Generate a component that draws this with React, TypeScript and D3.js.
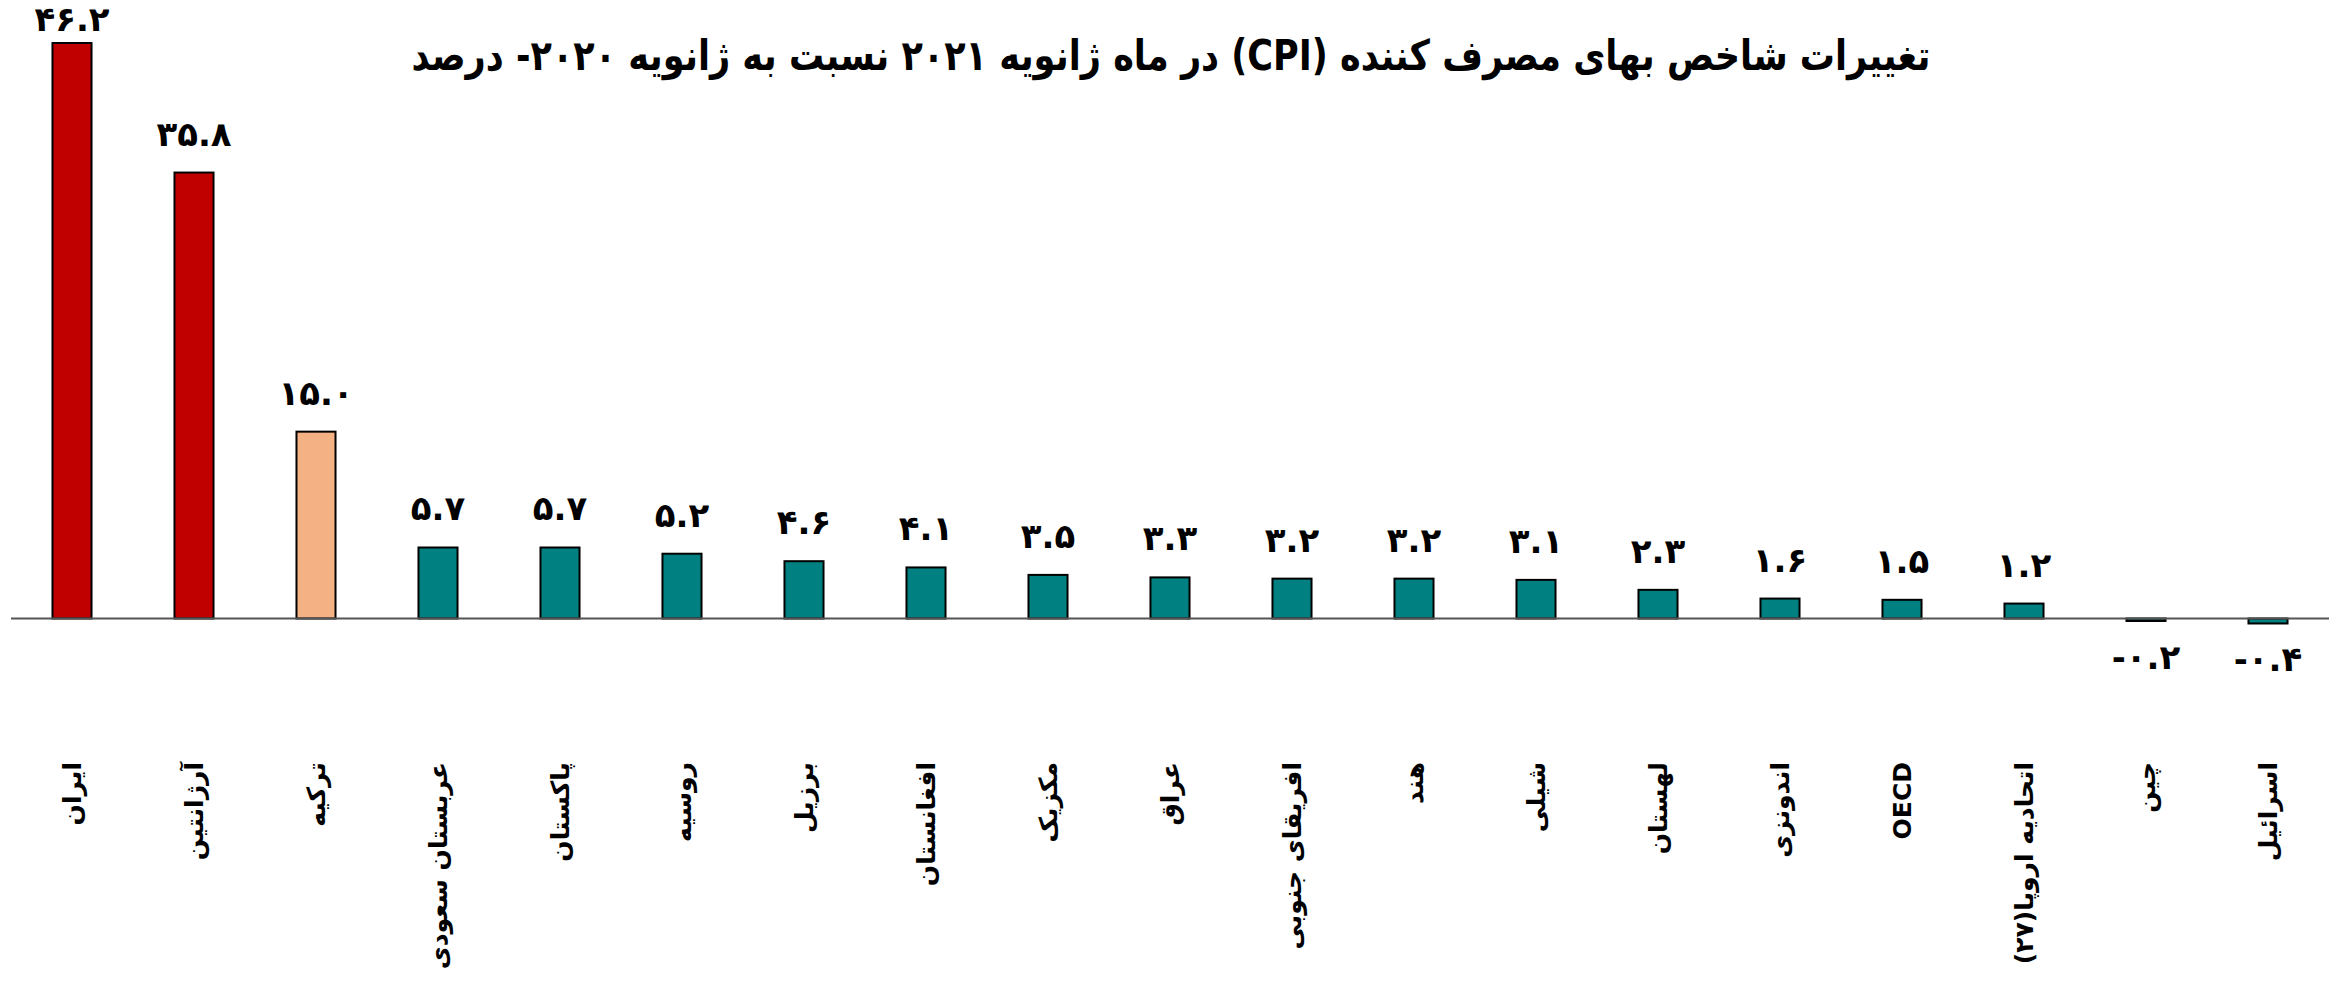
import React from "react";
import * as d3 from "d3";

const categories = [
  "ایران", "آرژانتین", "ترکیه", "عربستان سعودی", "پاکستان", "روسیه", "برزیل",
  "افغانستان", "مکزیک", "عراق", "افریقای جنوبی", "هند", "شیلی", "لهستان",
  "اندونزی", "OECD", "اتحادیه اروپا(۲۷)", "چین", "اسرائیل",
];
const values = [46.2, 35.8, 15.0, 5.7, 5.7, 5.2, 4.6, 4.1, 3.5, 3.3, 3.2, 3.2, 3.1, 2.3, 1.6, 1.5, 1.2, -0.2, -0.4];
const valueLabels = ["۴۶.۲", "۳۵.۸", "۱۵.۰", "۵.۷", "۵.۷", "۵.۲", "۴.۶", "۴.۱", "۳.۵", "۳.۳", "۳.۲", "۳.۲", "۳.۱", "۲.۳", "۱.۶", "۱.۵", "۱.۲", "-۰.۲", "-۰.۴"];
const groups = ["high", "high", "mid", "low", "low", "low", "low", "low", "low", "low", "low", "low", "low", "low", "low", "low", "low", "low", "low"];
const title = "تغییرات شاخص بهای مصرف کننده (CPI)  در ماه ژانویه ۲۰۲۱ نسبت به ژانویه ۲۰۲۰- درصد";

const W = 2341;
const H = 990;
const colors: Record<string, string> = { high: "#C00000", mid: "#F4B183", low: "#008080" };
const font = "'DejaVu Sans', sans-serif";

export default function App() {
  const x = d3.scaleBand<string>().domain(categories).range([11, 2329]).paddingInner(0.68).paddingOuter(0.34);
  const y = d3.scaleLinear().domain([0, 46.2]).range([618.5, 43]);
  const y0 = y(0);
  return (
    <svg width={W} height={H} style={{ position: "absolute", left: 0, top: 0, background: "#fff" }}>
      <text x={1171} y={70} textAnchor="middle" direction="rtl" fontFamily={font} fontWeight="bold" fontSize={42}
        textLength={1519} lengthAdjust="spacingAndGlyphs" fill="#000">
        {title}
      </text>
      {categories.map((c, i) => {
        const v = values[i];
        const bx = x(c)!;
        const top = Math.min(y(v), y0);
        const h = Math.abs(y(v) - y0);
        return (
          <rect key={"b" + i} x={bx} y={top} width={x.bandwidth()} height={h}
            fill={colors[groups[i]]} stroke="#000" strokeWidth={2} />
        );
      })}
      <line x1={11} x2={2329} y1={y0} y2={y0} stroke="#555" strokeWidth={2} />
      {categories.map((c, i) => {
        const v = values[i];
        const cx = x(c)! + x.bandwidth() / 2;
        const ly = v >= 0 ? Math.max(y(v) - 27, 31) : y(v) + 48;
        return (
          <text key={"v" + i} x={cx} y={ly} textAnchor="middle" fontFamily={font} fontWeight="bold" fontSize={34} fill="#000">
            {valueLabels[i]}
          </text>
        );
      })}
      {categories.map((c, i) => {
        const cx = x(c)! + x.bandwidth() / 2;
        return (
          <text key={"c" + i} transform={`translate(${cx},762) rotate(-90)`} textAnchor="start" direction="rtl"
            dominantBaseline="central" fontFamily={font} fontWeight="bold" fontSize={25} fill="#000">
            {c}
          </text>
        );
      })}
    </svg>
  );
}
